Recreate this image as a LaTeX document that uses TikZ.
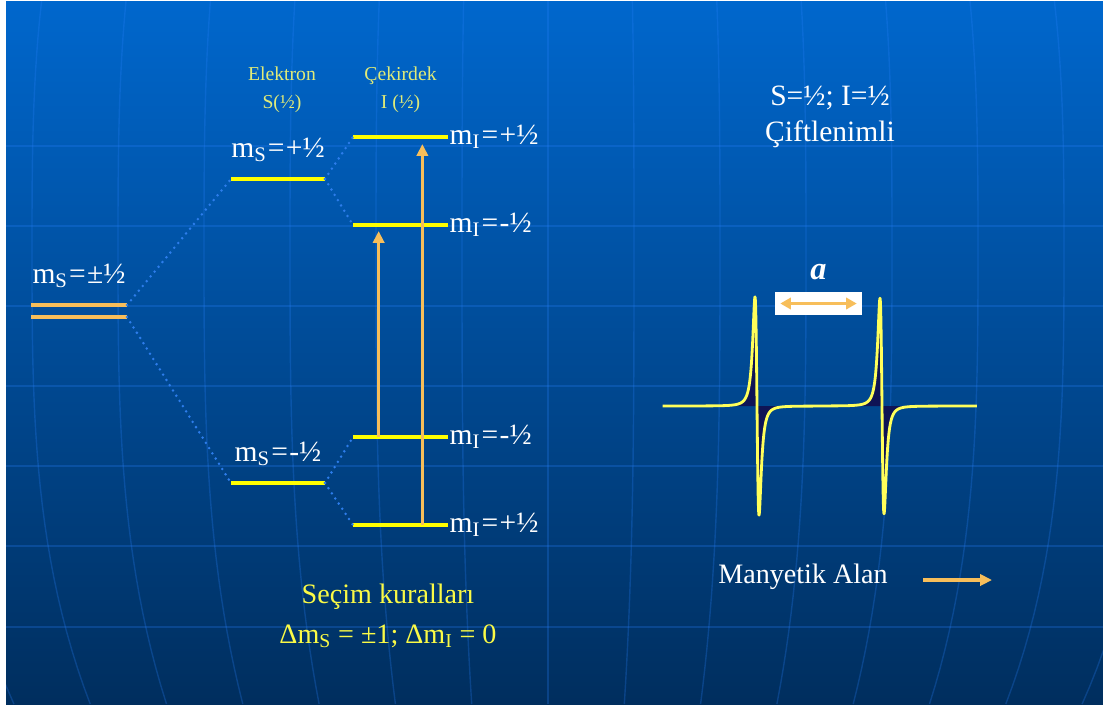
\documentclass[tikz,border=0pt]{standalone}
\usepackage{fontspec}
\setmainfont{Liberation Serif}
\usetikzlibrary{arrows.meta, positioning, calc}
\definecolor{slidetop}{RGB}{0,103,205}
\definecolor{slidebot}{RGB}{0,46,94}
\definecolor{gridblue}{RGB}{40,130,255}
\definecolor{lvlyellow}{RGB}{255,255,0}
\definecolor{lvlorange}{RGB}{247,190,90}
\definecolor{txtyellow}{RGB}{250,250,70}
\definecolor{hdryellow}{RGB}{225,235,120}
\definecolor{dotblue}{RGB}{45,125,235}
\definecolor{specyellow}{RGB}{255,255,90}
\definecolor{specshade}{RGB}{15,20,85}
\tikzstyle{enlevel} = [line width=2.8pt, lvlyellow]
\tikzstyle{oldlevel} = [line width=2.2pt, lvlorange]
\tikzstyle{splitdots} = [dotblue, line width=2pt, line cap=round, dash pattern=on 0pt off 4.4pt]
\tikzstyle{transarrow} = [line width=2.2pt, lvlorange, -{Triangle[length=8.5pt, width=8pt]}]
\tikzstyle{mlabel} = [inner sep=0pt, text=white, font=\fontsize{21}{24}\selectfont]
\tikzstyle{hdr} = [inner sep=0pt, align=center, text=hdryellow, font=\fontsize{14}{20}\selectfont]
\tikzstyle{spectrum} = [specyellow, line width=2pt, line join=round]
\tikzstyle{gridline} = [gridblue, opacity=0.25, line width=1pt]
\newcommand{\mS}{m\textsubscript{S}}
\newcommand{\mI}{m\textsubscript{I}}
\newcommand{\eqk}{\kern1pt=\kern1pt}
\pgfmathdeclarefunction{dlor}{1}{\pgfmathparse{-2*#1/(1+#1*#1)/(1+#1*#1)}}

\begin{document}
\begin{tikzpicture}[x=0.025cm, y=-0.025cm]
  \useasboundingbox[fill=white] (0,0) rectangle (1103,706);
  % arka plan
  \shade[top color=slidetop, bottom color=slidebot] (6,1) rectangle (1103,704);
  \begin{scope}
    \clip (6,1) rectangle (1103,704);
    \foreach \y in {146,226,306,386,466,546,627}
      \draw[gridline] (6,\y) -- (1103,\y);
    \foreach \k in {-7,...,7}
      \draw[gridline] plot[domain=1:704, samples=40] ({548+86*\k*(1-0.0012*abs((\x-250)/100)^3)}, \x);
  \end{scope}

  % seviyeler
  \coordinate (deg1l) at (31,305);  \coordinate (deg1r) at (127,305);
  \coordinate (deg2l) at (31,317);  \coordinate (deg2r) at (127,317);
  \coordinate (eupl) at (231,179);  \coordinate (eupr) at (325,179);
  \coordinate (edownl) at (231,483); \coordinate (edownr) at (325,483);
  \coordinate (n1l) at (353,137); \coordinate (n1r) at (448,137);
  \coordinate (n2l) at (353,225); \coordinate (n2r) at (448,225);
  \coordinate (n3l) at (353,437); \coordinate (n3r) at (448,437);
  \coordinate (n4l) at (353,525); \coordinate (n4r) at (448,525);
  \coordinate (degm) at ($(deg1l)!0.5!(deg1r)$);
  \coordinate (eupm) at ($(eupl)!0.5!(eupr)$);
  \coordinate (edownm) at ($(edownl)!0.5!(edownr)$);
  \coordinate (n1m) at ($(n1l)!0.5!(n1r)$);

  \draw[oldlevel] (deg1l) -- (deg1r);
  \draw[oldlevel] (deg2l) -- (deg2r);
  \draw[enlevel] (eupl) -- (eupr);
  \draw[enlevel] (edownl) -- (edownr);
  \draw[enlevel] (n1l) -- (n1r);
  \draw[enlevel] (n2l) -- (n2r);
  \draw[enlevel] (n3l) -- (n3r);
  \draw[enlevel] (n4l) -- (n4r);

  % yarilmalar
  \draw[splitdots] (deg1r) -- (eupl);
  \draw[splitdots] (deg2r) -- (edownl);
  \draw[splitdots] (eupr) -- (n1l);
  \draw[splitdots] (eupr) -- (n2l);
  \draw[splitdots] (edownr) -- (n3l);
  \draw[splitdots] (edownr) -- (n4l);

  % gecisler
  \draw[transarrow] ($(n3l)!0.27!(n3r)$) -- ($(n2l)!0.27!(n2r)+(0,6)$);
  \draw[transarrow] ($(n4l)!0.73!(n4r)$) -- ($(n1l)!0.73!(n1r)+(0,7)$);

  % etiketler
  \node[mlabel, above=12pt of degm] (msdeg) {\mS\eqk±½};
  \node[mlabel, above=12pt of eupm] (msup) {\mS\eqk+½};
  \node[mlabel, above=12pt of edownm] (msdown) {\mS\eqk-½};
  \node[mlabel, right=1pt of n1r] (mi1) {\mI\eqk+½};
  \node[mlabel, right=1pt of n2r] (mi2) {\mI\eqk-½};
  \node[mlabel, right=1pt of n3r] (mi3) {\mI\eqk-½};
  \node[mlabel, right=1pt of n4r] (mi4) {\mI\eqk+½};
  \node[hdr, above=17pt of n1m] (cekirdek) {Çekirdek\\I (½)};
  \node[hdr, left=1.2cm of cekirdek] (elektron) {Elektron\\S(½)};

  \node[mlabel, align=center, font=\fontsize{21}{26}\selectfont] (coupled) at (830,117) {S=½; I=½\\Çiftlenimli};

  % spektrum
  \draw[spectrum, preaction={fill=specshade}]
    plot[variable=\t, domain=-3:2.614, samples=241] ({757+3.5*\t*\t*\t}, {406-168*dlor(\t*\t*\t)})
    -- plot[variable=\t, domain=-2.614:3.006, samples=241] ({882+3.5*\t*\t*\t}, {406-166*dlor(\t*\t*\t)});

  \node[fill=white, inner sep=0pt, minimum width=2.175cm, minimum height=0.575cm] (abox) at (818.5,303.5) {};
  \draw[line width=2.2pt, lvlorange, {Triangle[length=7.5pt, width=8pt]}-{Triangle[length=7.5pt, width=8pt]}]
    ([xshift=0.14cm]abox.west) -- ([xshift=-0.14cm]abox.east);
  \node[inner sep=0pt, text=white, font=\fontsize{23}{26}\selectfont\bfseries\itshape, above=0.3cm of abox] (alabel) {a};

  \node[mlabel, font=\fontsize{20}{24}\selectfont] (field) at (803,577) {Manyetik Alan};
  \coordinate (fa) at (923,580);
  \coordinate (fb) at (992,580);
  \draw[transarrow, line width=2.6pt] (fa) -- (fb);

  \node[mlabel, align=center, text=txtyellow, font=\fontsize{20}{28}\selectfont] (rules) at (388,616)
    {Seçim kuralları\\Δ\mS{} = ±1; Δ\mI{} = 0};
\end{tikzpicture}
\end{document}
